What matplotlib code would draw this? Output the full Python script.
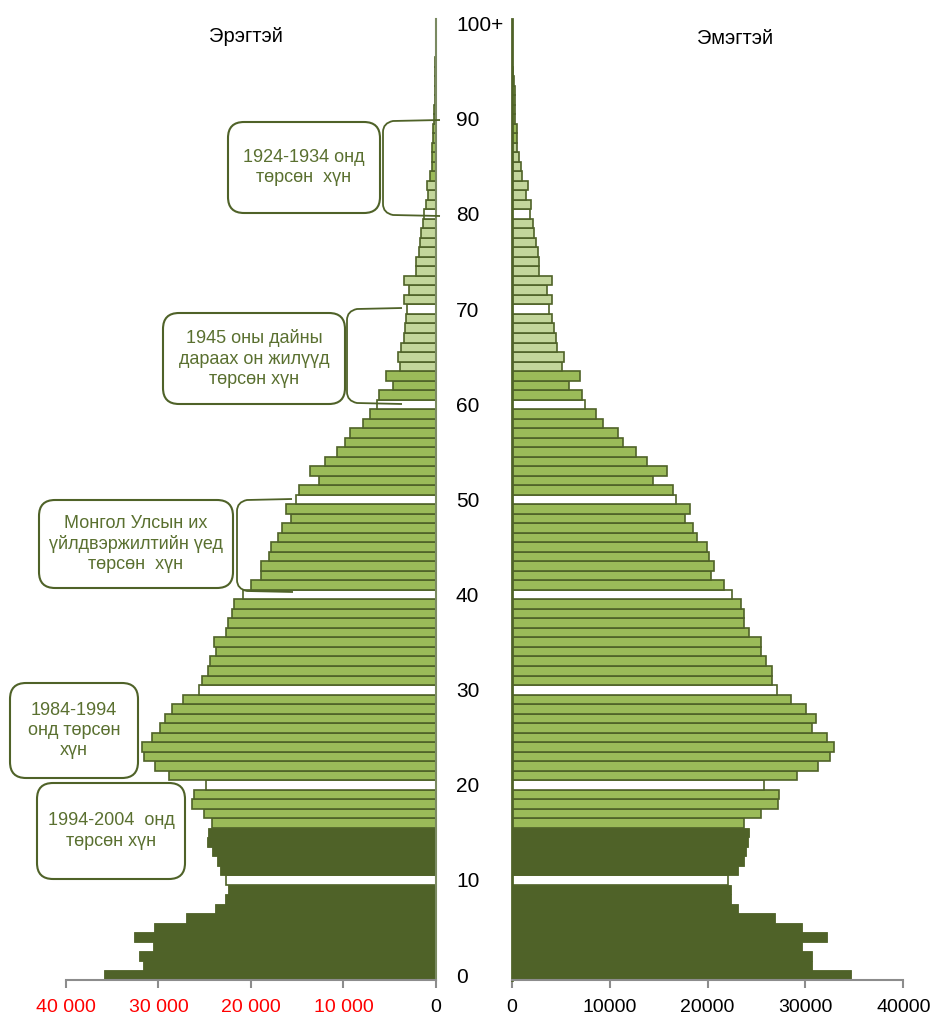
import matplotlib
matplotlib.use("Agg")
import matplotlib.pyplot as plt
import numpy as np
from matplotlib.patches import FancyBboxPatch, PathPatch
from matplotlib.path import Path
from matplotlib.transforms import blended_transform_factory

plt.rcParams['font.family'] = ['Liberation Sans', 'DejaVu Sans']

# population by single year of age (0 .. 100+)
ages = list(range(0, 101))
male = [35900, 31700, 32100, 30600, 32600, 30500, 27000, 23900, 22800, 22500,
        22700, 23400, 23700, 24200, 24800, 24600, 24200, 25100, 26400, 26200,
        24900, 28900, 30400, 31600, 31800, 30700, 29800, 29300, 28500, 27400,
        25600, 25300, 24700, 24400, 23800, 24000, 22700, 22500, 22000, 21800,
        20900, 20000, 18900, 18900, 18000, 17800, 17100, 16600, 15700, 16200,
        15100, 14800, 12700, 13600, 12000, 10700, 9800, 9300, 7900, 7100,
        6400, 6200, 4700, 5400, 3900, 4100, 3800, 3500, 3400, 3200,
        3100, 3500, 2900, 3500, 2200, 2200, 1800, 1700, 1600, 1450,
        1300, 1100, 850, 950, 600, 480, 450, 400, 350, 300,
        250, 200, 150, 120, 100, 80, 60, 40, 30, 20, 40]
female = [34700, 30700, 30700, 29600, 32200, 29600, 26900, 23100, 22400, 22400,
          22100, 23100, 23700, 23900, 24100, 24200, 23700, 25500, 27200, 27300,
          25800, 29100, 31300, 32500, 32900, 32200, 30700, 31100, 30100, 28500,
          27100, 26600, 26600, 26000, 25500, 25500, 24200, 23700, 23700, 23400,
          22500, 21700, 20300, 20600, 20100, 19900, 18900, 18500, 17700, 18200,
          16800, 16500, 14400, 15800, 13800, 12700, 11300, 10800, 9300, 8600,
          7500, 7200, 5800, 7000, 5100, 5300, 4600, 4500, 4300, 4100,
          3800, 4100, 3600, 4100, 2800, 2800, 2700, 2500, 2300, 2100,
          1800, 1900, 1400, 1600, 1050, 900, 750, 500, 550, 550,
          350, 300, 300, 300, 250, 60, 50, 40, 30, 20, 40]

age_labels = ['0', '10', '20', '30', '40', '50', '60', '70', '80', '90', '100+']
x_ticks = [40000, 30000, 20000, 10000, 0]

notes = ['1924-1934 онд\nтөрсөн  хүн',
         '1945 оны дайны\nдараах он жилүүд\nтөрсөн хүн',
         'Монгол Улсын их\nүйлдвэржилтийн үед\nтөрсөн  хүн',
         '1984-1994\nонд төрсөн\nхүн',
         '1994-2004  онд\nтөрсөн хүн']

DARK = '#4F6228'
MID = '#9BBB59'
LIGHT = '#C3D69B'
OLIVE_TXT = '#5A7030'


def bar_colors(mid_from):
    cols = []
    for a in ages:
        if a <= 15:
            cols.append(DARK)
        elif a % 10 == 0 and a <= 80:
            cols.append('white')
        elif a >= mid_from or a < 64:
            cols.append(MID)
        else:
            cols.append(LIGHT)
    # white decade rows inside the dark block too
    cols[10] = 'white'
    return cols


W, H = 939, 1021
fig = plt.figure(figsize=(W / 100, H / 100), dpi=100)

ax_l = fig.add_axes([66 / W, 41 / H, 370 / W, 961 / H])
ax_r = fig.add_axes([512 / W, 41 / H, 391.3 / W, 961 / H])

for ax, vals, mid_from in [(ax_l, male, 84), (ax_r, female, 88)]:
    cols = bar_colors(mid_from)
    lws = [0.6 if (a <= 15 and a != 10) else 1.2 for a in ages]
    ax.barh(ages, vals, height=1.0, color=cols, edgecolor=DARK, linewidth=lws)
    ax.set_ylim(-0.5, 100.5)
    ax.set_yticks([])
    for s in ['top', 'left', 'right']:
        ax.spines[s].set_visible(False)
    ax.spines['bottom'].set_color('#8C8C8C')
    ax.spines['bottom'].set_linewidth(1.5)
    ax.tick_params(axis='x', direction='out', length=6, width=1.5,
                   color='#8C8C8C', labelsize=14, pad=8)

ax_l.set_xlim(40000, 0)
ax_l.set_xticks(x_ticks)
ax_l.set_xticklabels([f"{v:,}".replace(',', ' ') for v in x_ticks])
for lbl, v in zip(ax_l.get_xticklabels(), x_ticks):
    lbl.set_color('black' if v == 0 else 'red')
ax_l.spines['right'].set_visible(True)
ax_l.spines['right'].set_color('#7A8A62')
ax_l.spines['right'].set_linewidth(1.5)

ax_r.set_xlim(0, 40000)
ax_r.set_xticks([0, 10000, 20000, 30000, 40000])
ax_r.set_xticklabels(['0', '10000', '20000', '30000', '40000'])
ax_r.spines['left'].set_visible(True)
ax_r.spines['left'].set_color(DARK)
ax_r.spines['left'].set_linewidth(2)

# age labels between the two halves
tr = blended_transform_factory(fig.transFigure, ax_l.transData)
for i, lab in enumerate(age_labels):
    ax_l.text(456 / W, i * 10 - 0.2, lab, transform=tr, ha='left', va='center',
              fontsize=15, clip_on=False)

fig.text(246 / W, 1 - 37 / H, 'Эрэгтэй', ha='center', va='center', fontsize=14.5)
fig.text(735 / W, 1 - 38 / H, 'Эмэгтэй', ha='center', va='center', fontsize=14.5)

# overlay for the callout boxes and brackets (pixel coordinates)
ov = fig.add_axes([0, 0, 1, 1])
ov.set_xlim(0, W)
ov.set_ylim(H, 0)
ov.axis('off')
ov.patch.set_alpha(0)

boxes = [(228, 122, 380, 213), (163, 313, 345, 404), (39, 500, 233, 588),
         (10, 683, 138, 778), (37, 783, 185, 879)]
for (x0, y0, x1, y1), txt in zip(boxes, notes):
    ov.add_patch(FancyBboxPatch((x0, y0), x1 - x0, y1 - y0,
                                boxstyle='round,pad=0,rounding_size=16',
                                facecolor='white', edgecolor=DARK, linewidth=1.5))
    ov.text((x0 + x1) / 2, (y0 + y1) / 2, txt, ha='center', va='center',
            fontsize=13, color=OLIVE_TXT, linespacing=1.25)

brackets = [((440, 120), 383, (440, 216)),
            ((402, 308), 347, (402, 404)),
            ((292, 499), 237, (293, 592))]
for (xt, yt), xb, (xe, ye) in brackets:
    verts = [(xt, yt), (xb + 10, yt + 1), (xb, yt + 3), (xb, yt + 12),
             (xb, ye - 12), (xb, ye - 3), (xb + 10, ye - 1), (xe, ye)]
    codes = [Path.MOVETO, Path.LINETO, Path.CURVE3, Path.CURVE3,
             Path.LINETO, Path.CURVE3, Path.CURVE3, Path.LINETO]
    ov.add_patch(PathPatch(Path(verts, codes), facecolor='none',
                           edgecolor=DARK, linewidth=1.3))

fig.savefig('out.png', dpi=100)
